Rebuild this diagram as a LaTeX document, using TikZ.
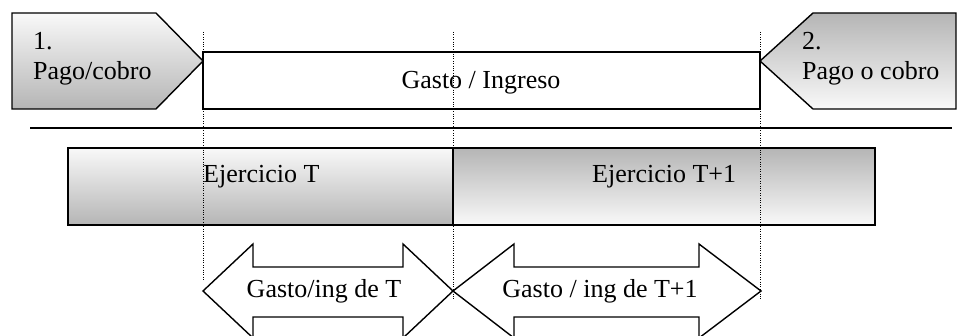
\documentclass[tikz,border=0pt]{standalone}
\usepackage{fontspec}
\setmainfont{Liberation Serif}
\usepackage{tikz}

\begin{document}
\begin{tikzpicture}[x=1pt, y=-1pt,
    txt/.style={inner sep=0pt, anchor=base west, font=\fontsize{26}{30}\selectfont},
    lighttop/.style={draw, line width=1.4pt, top color=gray!5, bottom color=gray!58},
    darktop/.style={draw, line width=1.4pt, top color=gray!58, bottom color=gray!5},
    guide/.style={line width=1pt, dash pattern=on 1pt off 1.4pt},
    flecha/.style={draw, line width=1.4pt, fill=white, line join=miter}]
  \useasboundingbox (0,0) rectangle (957,336);
  \clip (0,0) rectangle (957,336);

  % pago / cobro
  \path[lighttop] (12,13) -- (156,13) -- (203,61) -- (156,109) -- (12,109) -- cycle;
  \path[darktop] (760,61) -- (813,13) -- (956,13) -- (956,109) -- (813,109) -- cycle;
  \draw[line width=1.4pt] (203,52) rectangle (760,109);
  \node[txt] (p1) at (33,50) {1.};
  \node[txt] (pc1) at (33,80) {Pago/cobro};
  \node[txt] (p2) at (802,50) {2.};
  \node[txt] (pc2) at (802,80) {Pago o cobro};
  \node[txt, anchor=base] (gi) at (481,89) {Gasto / Ingreso};

  \draw[line width=1.6pt] (30,128) -- (952,128);

  % ejercicios
  \path[lighttop] (68,148) rectangle (453,225);
  \path[darktop] (453,148) rectangle (875,225);
  \node[txt] (ejT) at (203,183) {Ejercicio T};
  \node[txt] (ejT1) at (592,183) {Ejercicio T+1};

  % imputacion
  \path[flecha] (203,291) -- (253,244) -- (253,267) -- (403,267) -- (403,244) -- (453,291)
    -- (403,338) -- (403,317) -- (253,317) -- (253,338) -- cycle;
  \path[flecha] (453,291) -- (514,244) -- (514,267) -- (699,267) -- (699,244) -- (761,291)
    -- (699,338) -- (699,317) -- (514,317) -- (514,338) -- cycle;
  \node[txt, anchor=base] (gT) at (324,298) {Gasto/ing de T};
  \node[txt, anchor=base] (gT1) at (600,298) {Gasto / ing de T+1};

  % cortes
  \draw[guide] (203,32) -- (203,280);
  \draw[guide] (453,32) -- (453,300);
  \draw[guide] (760,32) -- (760,300);
\end{tikzpicture}
\end{document}
